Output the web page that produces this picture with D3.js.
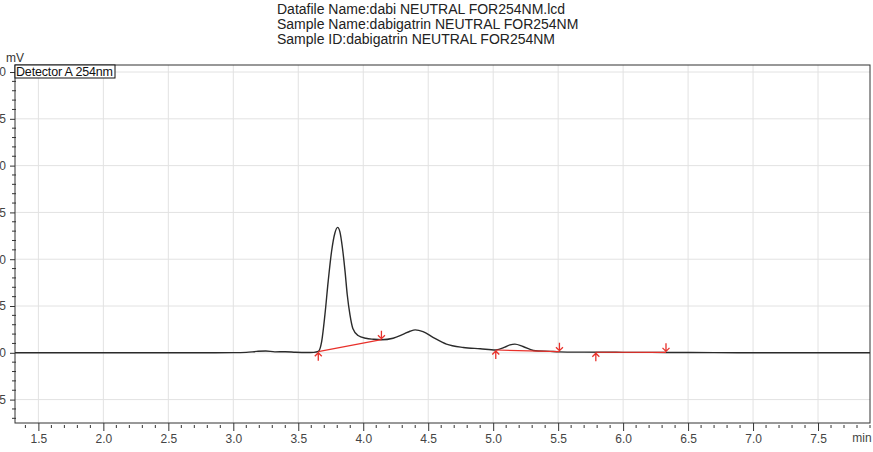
<!DOCTYPE html>
<html>
<head>
<meta charset="utf-8">
<script src="https://cdn.jsdelivr.net/npm/d3@7"></script>
<style>
  body { margin: 0; background: #fff; }
  svg { display: block; font-family: "Liberation Sans", Arial, sans-serif; }
</style>
</head>
<body>
<div id="chart"></div>
<script>
// header lines
const titleLines = [
  'Datafile Name:dabi NEUTRAL FOR254NM.lcd',
  'Sample Name:dabigatrin NEUTRAL FOR254NM',
  'Sample ID:dabigatrin NEUTRAL FOR254NM'
];
const detectorLabel = 'Detector A 254nm';

// chromatogram trace (min, mV)
const times = [1.32, 2.0, 2.6, 3.0, 3.1, 3.18, 3.25, 3.32, 3.4, 3.48, 3.56, 3.62, 3.654, 3.68, 3.705,
  3.73, 3.756, 3.782, 3.803, 3.82, 3.84, 3.86, 3.877, 3.898, 3.92, 3.96, 4.02, 4.08, 4.14, 4.23,
  4.31, 4.36, 4.40, 4.46, 4.54, 4.64, 4.77, 4.90, 5.02, 5.09, 5.13, 5.167, 5.23, 5.31, 5.44, 5.51,
  5.7, 6.0, 6.33, 6.7, 7.0, 7.5, 7.9];
const signal = [0, 0, 0, 0.02, 0.05, 0.15, 0.2, 0.1, 0.12, 0.06, 0.03, 0.05, 0.15, 1.2, 4.05,
  7.6, 10.8, 12.8, 13.4, 12.95, 11.2, 8.7, 6.2, 4.05, 2.6, 1.85, 1.55, 1.45, 1.4, 1.56,
  2.0, 2.3, 2.45, 2.27, 1.63, 0.93, 0.57, 0.43, 0.3, 0.6, 0.85, 0.93, 0.67, 0.25, 0.15, 0.1,
  0.07, 0.05, 0.04, 0.02, 0.01, 0, 0];

// integration baselines: start/end points
const peakStartT = [3.654, 5.02, 5.79];
const peakStartV = [0.12, 0.3, 0.06];
const peakEndT = [4.14, 5.51, 6.33];
const peakEndV = [1.4, 0.12, 0.05];

const xMajor = [1.5, 2.0, 2.5, 3.0, 3.5, 4.0, 4.5, 5.0, 5.5, 6.0, 6.5, 7.0, 7.5];
const yMajor = [-5, 0, 5, 10, 15, 20, 25, 30];

const width = 873, height = 452;
const plot = { left: 15, right: 870, top: 65, bottom: 423 };

const svg = d3.select('#chart').append('svg')
  .attr('width', width)
  .attr('height', height);

const x = d3.scaleLinear().domain([1.32, 7.9]).range([plot.left, plot.right]);
const y = d3.scaleLinear().domain([-7.5, 30.75]).range([plot.bottom, plot.top]);

// title block
svg.append('g').selectAll('text')
  .data(titleLines)
  .join('text')
  .attr('x', 277)
  .attr('y', (d, i) => 14 + i * 15)
  .attr('font-size', 14)
  .attr('fill', '#222')
  .text(d => d);

// grid
svg.append('g').selectAll('line')
  .data(xMajor)
  .join('line')
  .attr('x1', d => x(d)).attr('x2', d => x(d))
  .attr('y1', plot.top).attr('y2', plot.bottom)
  .attr('stroke', '#e2e2e2');
svg.append('g').selectAll('line')
  .data(yMajor)
  .join('line')
  .attr('x1', plot.left).attr('x2', plot.right)
  .attr('y1', d => y(d)).attr('y2', d => y(d))
  .attr('stroke', '#e2e2e2');

// frame
svg.append('rect')
  .attr('x', plot.left).attr('y', plot.top)
  .attr('width', plot.right - plot.left)
  .attr('height', plot.bottom - plot.top)
  .attr('fill', 'none')
  .attr('stroke', '#333');

// x axis
const xMinor = d3.range(14, 80).map(d => d / 10).filter(d => !xMajor.includes(d));
const xAxis = d3.axisBottom(x).tickValues(xMajor).tickFormat(d3.format('.1f')).tickSize(8).tickPadding(3);
const gx = svg.append('g').attr('transform', `translate(0,${plot.bottom})`).call(xAxis);
gx.select('.domain').remove();
gx.selectAll('line').attr('stroke', '#333');
gx.selectAll('text').attr('font-size', 12).attr('fill', '#444').attr('font-family', 'inherit');
svg.append('g').selectAll('line')
  .data(xMinor)
  .join('line')
  .attr('x1', d => x(d)).attr('x2', d => x(d))
  .attr('y1', plot.bottom + 2).attr('y2', plot.bottom + 5)
  .attr('stroke', '#333');
svg.append('text')
  .attr('x', 862).attr('y', 442)
  .attr('text-anchor', 'middle')
  .attr('font-size', 12)
  .attr('fill', '#444')
  .text('min');

// y axis, labels run off the left edge like the instrument printout
const yMinor = d3.range(-7, 31).filter(d => d % 5 !== 0);
const yAxis = d3.axisLeft(y).tickValues(yMajor).tickSize(5).tickPadding(4);
const gy = svg.append('g').attr('transform', `translate(${plot.left},0)`).call(yAxis);
gy.select('.domain').remove();
gy.selectAll('line').attr('stroke', '#333');
gy.selectAll('text').attr('font-size', 12).attr('fill', '#444').attr('font-family', 'inherit');
svg.append('g').selectAll('line')
  .data(yMinor)
  .join('line')
  .attr('x1', plot.left - 3).attr('x2', plot.left + 1)
  .attr('y1', d => y(d)).attr('y2', d => y(d))
  .attr('stroke', '#333');
svg.append('text')
  .attr('x', 15).attr('y', 62)
  .attr('text-anchor', 'middle')
  .attr('font-size', 12)
  .attr('fill', '#333')
  .text('mV');

// trace
const trace = times.map((t, i) => ({ t, v: signal[i] }));
const line = d3.line().x(d => x(d.t)).y(d => y(d.v)).curve(d3.curveMonotoneX);
svg.append('path')
  .datum(trace)
  .attr('d', line)
  .attr('fill', 'none')
  .attr('stroke', '#2b2b2b')
  .attr('stroke-width', 1.4);

// integration baselines
const red = '#e8302a';
svg.append('g').selectAll('line')
  .data(peakStartT)
  .join('line')
  .attr('x1', (d, i) => x(d)).attr('y1', (d, i) => y(peakStartV[i]))
  .attr('x2', (d, i) => x(peakEndT[i])).attr('y2', (d, i) => y(peakEndV[i]))
  .attr('stroke', red)
  .attr('stroke-width', 1.2);

// start arrows point up, end arrows point down
const arrows = svg.append('g').attr('stroke', red).attr('fill', 'none').attr('stroke-width', 1.3);
peakStartT.forEach((t, i) => {
  const px = x(t), py = y(peakStartV[i]);
  arrows.append('path').attr('d', `M${px},${py + 1}V${py + 9}M${px - 3.5},${py + 4.5}L${px},${py + 1}L${px + 3.5},${py + 4.5}`);
});
peakEndT.forEach((t, i) => {
  const px = x(t), py = y(peakEndV[i]);
  arrows.append('path').attr('d', `M${px},${py - 1}V${py - 9}M${px - 3.5},${py - 4.5}L${px},${py - 1}L${px + 3.5},${py - 4.5}`);
});

// detector legend
svg.append('rect')
  .attr('x', plot.left).attr('y', plot.top)
  .attr('width', 100).attr('height', 13)
  .attr('fill', '#fff')
  .attr('stroke', '#111');
svg.append('text')
  .attr('x', plot.left + 1).attr('y', plot.top + 11)
  .attr('font-size', 12.5)
  .attr('textLength', 97)
  .attr('fill', '#111')
  .text(detectorLabel);
</script>
</body>
</html>
